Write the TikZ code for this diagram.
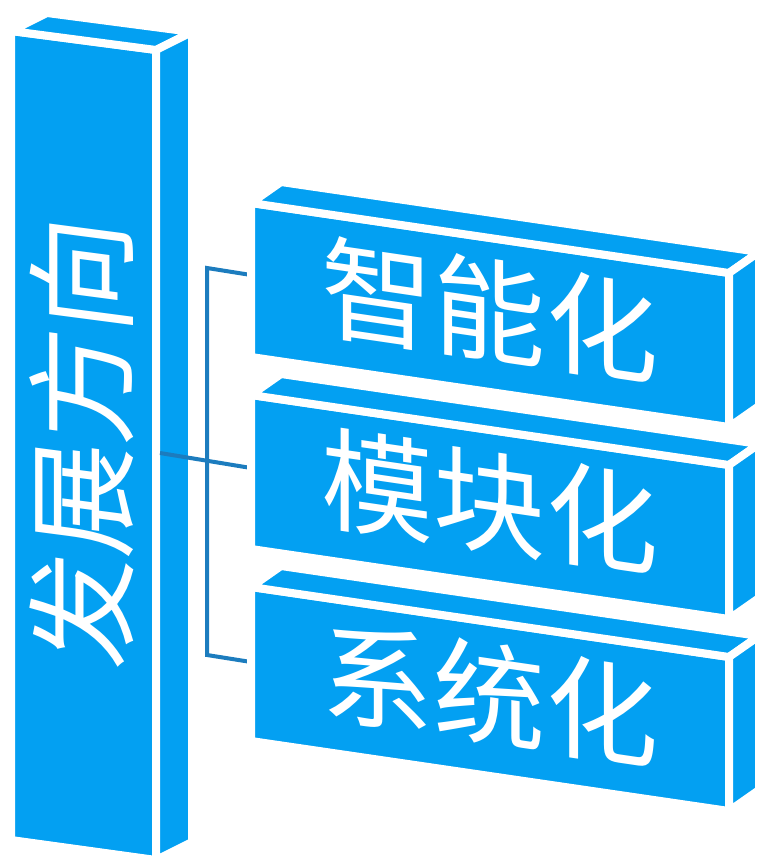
\documentclass[tikz,border=0pt]{standalone}
\usepackage{fontspec}
\usepackage{xcolor}
\usepackage{tikz}
\usetikzlibrary{calc}
\newfontfamily\cjk{Noto Sans CJK SC}
\definecolor{faceblue}{RGB}{3,160,242}
\definecolor{linkblue}{RGB}{28,124,190}

\begin{document}
\begin{tikzpicture}[
    x=0.01cm, y=-0.01cm,
    face/.style={fill=faceblue, draw=white, line width=0.08cm, line join=miter},
    label/.style={text=white, font=\cjk\fontsize{31.9}{32}\selectfont, inner sep=0pt},
    link/.style={draw=linkblue, line width=0.04cm},
    slab/.pic={
        \path[face] (0,0) -- ++(478,70) -- ++(0,154) -- ++(-478,-70) -- cycle;
        \path[face] (0,0) -- ++(478,70) -- ++(30,-21) -- ++(-478,-70) -- cycle;
        \path[face] (478,70) -- ++(30,-21) -- ++(0,154) -- ++(-30,21) -- cycle;
    },
]
\useasboundingbox (0,0) rectangle (757,858);

% pillar
\path[face] (11,31) -- (156,50) -- (156,860) -- (11,840) -- cycle;
\path[face] (11,31) -- (156,50) -- ++(36,-18) -- (47,13) -- cycle;
\path[face] (156,50) -- (156,860) -- ++(36,-18) -- (192,32) -- cycle;
\node[label, yslant=-0.131, rotate=90] (dir) at (82,442) {发展方向};

% bracket
\coordinate (hub) at (160,453);
\coordinate (top) at (207,268);
\coordinate (bot) at (207,655);
\coordinate (in1) at (251,275);
\coordinate (in2) at (251,468);
\coordinate (in3) at (251,662);
\draw[link] (in1) -- (top) -- (bot) -- (in3);
\draw[link] (hub) -- (in2);

% slabs
\pic at (251,203) {slab};
\pic at (251,395) {slab};
\pic at (251,587) {slab};
\node[label, yslant=-0.147] (smart) at (490,310) {智能化};
\node[label, yslant=-0.147] (modular) at (490,502) {模块化};
\node[label, yslant=-0.147] (system) at (490,694) {系统化};
\end{tikzpicture}
\end{document}
